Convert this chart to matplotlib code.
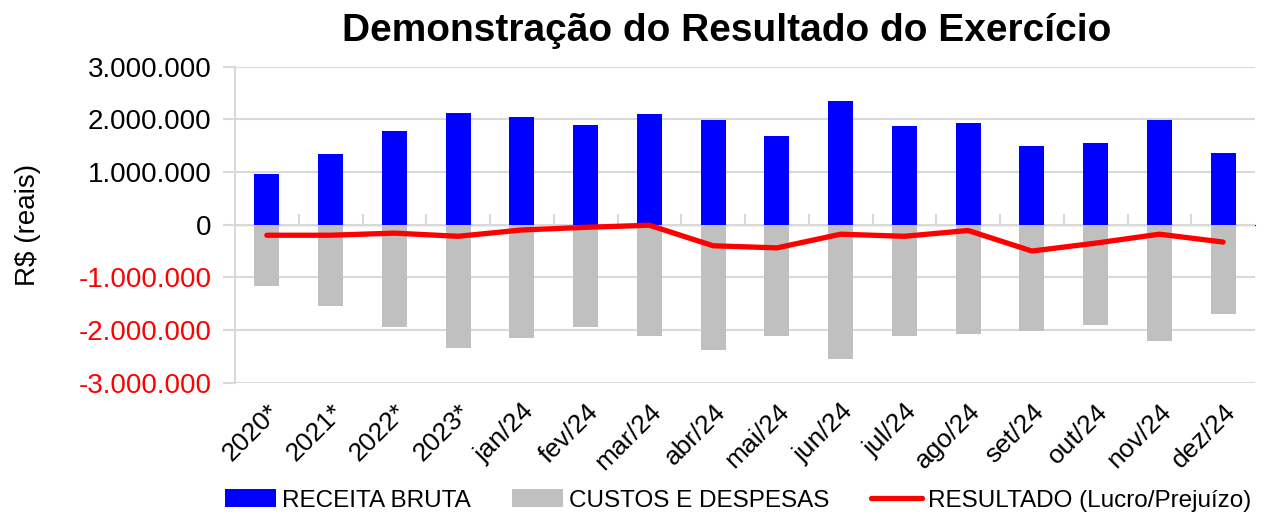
import matplotlib
matplotlib.use("Agg")
import matplotlib.pyplot as plt
from matplotlib.ticker import FuncFormatter

categories = ["2020*", "2021*", "2022*", "2023*", "jan/24", "fev/24", "mar/24", "abr/24",
              "mai/24", "jun/24", "jul/24", "ago/24", "set/24", "out/24", "nov/24", "dez/24"]
receita = [970000, 1340000, 1770000, 2130000, 2040000, 1890000, 2100000, 1980000,
           1690000, 2340000, 1880000, 1940000, 1500000, 1550000, 1980000, 1360000]
custos = [-1170000, -1550000, -1950000, -2350000, -2150000, -1950000, -2120000, -2380000,
          -2120000, -2550000, -2120000, -2070000, -2010000, -1910000, -2200000, -1690000]
resultado = [-200000, -200000, -160000, -220000, -100000, -50000, -10000, -400000,
             -440000, -180000, -220000, -110000, -500000, -350000, -180000, -330000]
yticks = [-3000000, -2000000, -1000000, 0, 1000000, 2000000, 3000000]

FONT = ["Liberation Sans", "DejaVu Sans"]
plt.rcParams["font.family"] = FONT

fig = plt.figure(figsize=(12.66, 5.17), dpi=100)
ax = fig.add_axes([235/1266, 1-382.7/517, (1255-235)/1266, (382.7-66.7)/517])

x = list(range(len(categories)))
grid_c = "#d9d9d9"
b1 = ax.bar(x, receita, width=0.39, color="#0000ff", label="RECEITA BRUTA", zorder=2)
b2 = ax.bar(x, custos, width=0.39, color="#c0c0c0", label="CUSTOS E DESPESAS", zorder=2)
l1, = ax.plot(x, resultado, color="#ff0000", lw=3.8, solid_capstyle="round",
              solid_joinstyle="round", label="RESULTADO (Lucro/Prejuízo)", zorder=3)

ax.set_xlim(-0.5, len(categories) - 0.5)
ax.set_ylim(-3000000, 3000000)
ax.set_yticks(yticks)

def fmt(v, pos):
    s = f"{abs(int(v)):,}".replace(",", ".")
    return ("-" + s) if v < 0 else s
ax.yaxis.set_major_formatter(FuncFormatter(fmt))
for lbl, v in zip(ax.get_yticklabels(), yticks):
    lbl.set_color("red" if v < 0 else "black")
ax.tick_params(axis="y", labelsize=20, length=9, color=grid_c, width=1.5, pad=8)

ax.set_xticks(x)
ax.set_xticklabels(categories, rotation=45, ha="right", va="top", rotation_mode="anchor", fontsize=19)
ax.tick_params(axis="x", length=0, pad=12)

ax.grid(axis="y", color=grid_c, lw=1.5, zorder=0)
ax.set_axisbelow(True)
for s in ["top", "right", "bottom"]:
    ax.spines[s].set_visible(False)
ax.spines["left"].set_color(grid_c)
ax.spines["left"].set_linewidth(1.5)

sec = ax.secondary_xaxis(0.5)
sec.set_xticks([i + 0.5 for i in x[:-1]])
sec.set_xticklabels([])
sec.tick_params(length=8, color=grid_c, width=1.5, direction="out")
sec.spines["bottom"].set_color(grid_c)
sec.spines["bottom"].set_linewidth(1.5)

ax.set_ylabel("R$ (reais)", fontsize=20)
ax.yaxis.set_label_coords(-0.19, 0.5)

fig.suptitle("Demonstração do Resultado do Exercício", fontsize=28, fontweight="bold",
             x=0.574, y=0.975, va="top")

fig.legend(handles=[b1, b2, l1], loc="center", bbox_to_anchor=(0.583, 0.032), ncol=3, frameon=False,
           fontsize=17.5, handlelength=2.1, handleheight=0.75, handletextpad=0.25,
           columnspacing=1.7)

fig.savefig("out.png", dpi=100)
